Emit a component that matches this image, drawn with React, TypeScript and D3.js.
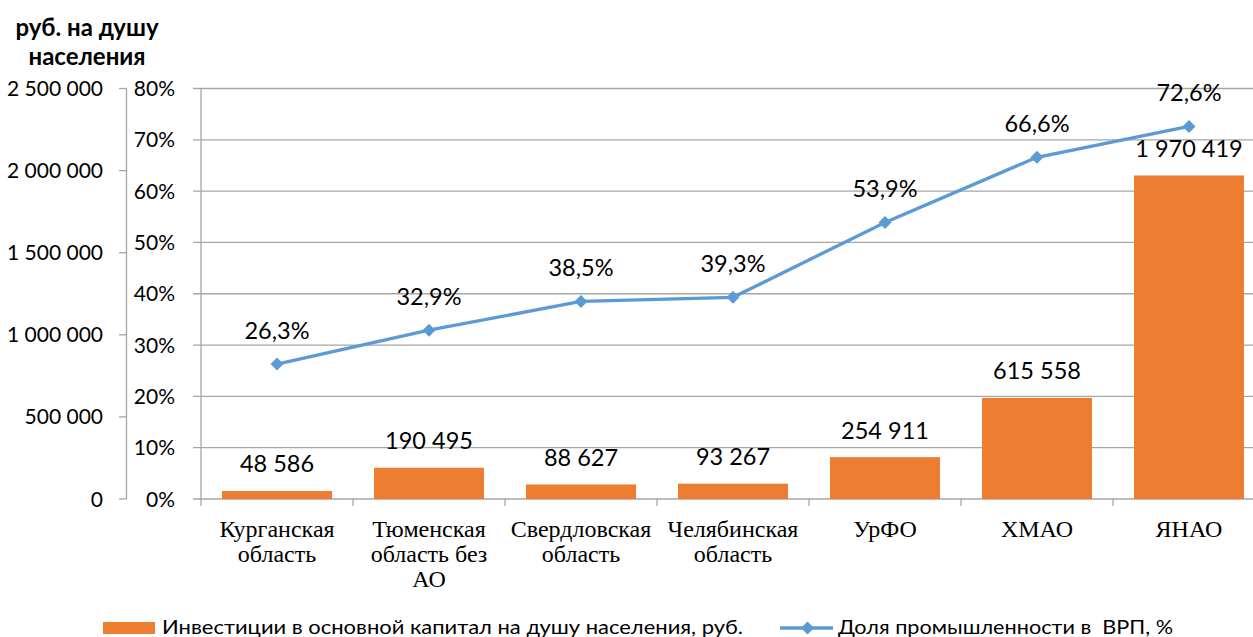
import React from "react";
import * as d3 from "d3";

const categories: string[][] = [
  ["Курганская", "область"],
  ["Тюменская", "область без", "АО"],
  ["Свердловская", "область"],
  ["Челябинская", "область"],
  ["УрФО"],
  ["ХМАО"],
  ["ЯНАО"],
];
const investments = [48586, 190495, 88627, 93267, 254911, 615558, 1970419];
const industryShare = [26.3, 32.9, 38.5, 39.3, 53.9, 66.6, 72.6];
const leftTicks = [0, 500000, 1000000, 1500000, 2000000, 2500000];
const pctTicks = [0, 10, 20, 30, 40, 50, 60, 70, 80];
const barLegend = "Инвестиции в основной капитал на душу населения, руб.";
const lineLegend = "Доля промышленности в  ВРП, %";
const titleLines = ["руб. на душу", "населения"];

const W = 1253;
const H = 637;
const sans = "Lato, 'Open Sans', sans-serif";
const serif = "'Liberation Serif', 'Times New Roman', serif";
const BAR = "#ED7D31";
const LINE = "#5B9BD5";
const GRID = "#A6A6A6";

const fmt = (v: number) =>
  String(v).replace(/\B(?=(\d{3})+(?!\d))/g, " ");
const fmtPct = (v: number) => v.toFixed(1).replace(".", ",") + "%";

export default function App() {
  const top = 88.5;
  const bottom = 499;
  const plotLeft = 201;
  const plotRight = 1265;
  const yL = d3.scaleLinear().domain([0, 2500000]).range([bottom, top]);
  const yP = d3.scaleLinear().domain([0, 80]).range([bottom, top]);
  const x = d3
    .scaleBand<number>()
    .domain(categories.map((_, i) => i))
    .range([plotLeft, plotRight])
    .paddingInner(0.276)
    .paddingOuter(0.138);
  const band = (plotRight - plotLeft) / categories.length;
  const cx = (i: number) => (x(i) as number) + x.bandwidth() / 2;

  const line = d3
    .line<number>()
    .x((_, i) => cx(i))
    .y((d) => yP(d));

  const diamond = (px: number, py: number, r: number) =>
    `M${px},${py - r}L${px + r},${py}L${px},${py + r}L${px - r},${py}Z`;

  return (
    <svg
      width={W}
      height={H}
      style={{ position: "absolute", left: 0, top: 0, background: "#fff" }}
    >
      {/* title */}
      {titleLines.map((t, i) => (
        <text
          key={t}
          x={87}
          y={36 + i * 29}
          textAnchor="middle"
          fontFamily={sans}
          fontWeight="bold"
          fontSize={24}
          fill="#000"
        >
          {t}
        </text>
      ))}

      {/* gridlines */}
      {pctTicks.map((t) => (
        <line
          key={"g" + t}
          x1={193}
          x2={plotRight}
          y1={yP(t)}
          y2={yP(t)}
          stroke={GRID}
          strokeWidth={1.3}
        />
      ))}

      {/* left axis */}
      <line x1={126.5} x2={126.5} y1={top} y2={bottom} stroke={GRID} strokeWidth={1.3} />
      {leftTicks.map((t) => (
        <g key={"l" + t}>
          <line x1={119} x2={126.5} y1={yL(t)} y2={yL(t)} stroke={GRID} strokeWidth={1.3} />
          <text
            x={103}
            y={yL(t)}
            dy="0.36em"
            textAnchor="end"
            fontFamily={sans}
            fontSize={21}
            fill="#000"
          >
            {fmt(t)}
          </text>
        </g>
      ))}

      {/* pct axis */}
      <line x1={plotLeft} x2={plotLeft} y1={top} y2={506} stroke={GRID} strokeWidth={1.3} />
      {pctTicks.map((t) => (
        <text
          key={"p" + t}
          x={175}
          y={yP(t)}
          dy="0.36em"
          textAnchor="end"
          fontFamily={sans}
          fontSize={21}
          fill="#000"
        >
          {t + "%"}
        </text>
      ))}

      {/* category ticks */}
      {categories.map((_, i) => (
        <line
          key={"ct" + i}
          x1={plotLeft + band * (i + 1)}
          x2={plotLeft + band * (i + 1)}
          y1={bottom}
          y2={506}
          stroke={GRID}
          strokeWidth={1.3}
        />
      ))}

      {/* bars */}
      {investments.map((v, i) => (
        <rect
          key={"b" + i}
          x={x(i)}
          y={yL(v)}
          width={x.bandwidth()}
          height={bottom - yL(v)}
          fill={BAR}
        />
      ))}
      {investments.map((v, i) => (
        <text
          key={"bl" + i}
          x={cx(i)}
          y={yL(v) - 27}
          dy="0.36em"
          textAnchor="middle"
          fontFamily={sans}
          fontSize={23.5}
          fill="#000"
        >
          {fmt(v)}
        </text>
      ))}

      {/* line */}
      <path d={line(industryShare) || ""} fill="none" stroke={LINE} strokeWidth={3.3} />
      {industryShare.map((v, i) => (
        <path key={"m" + i} d={diamond(cx(i), yP(v), 6.5)} fill={LINE} />
      ))}
      {industryShare.map((v, i) => (
        <text
          key={"pl" + i}
          x={cx(i)}
          y={yP(v) - 34}
          dy="0.36em"
          textAnchor="middle"
          fontFamily={sans}
          fontSize={23.5}
          fill="#000"
        >
          {fmtPct(v)}
        </text>
      ))}

      {/* category labels */}
      {categories.map((lines, i) => (
        <text
          key={"c" + i}
          textAnchor="middle"
          fontFamily={serif}
          fontSize={24}
          fill="#000"
        >
          {lines.map((l, j) => (
            <tspan key={j} x={cx(i)} y={537 + j * 25}>
              {l}
            </tspan>
          ))}
        </text>
      ))}

      {/* legend */}
      <rect x={103} y={622} width={52} height={12} fill={BAR} />
      <text
        x={162}
        y={634}
        fontFamily={sans}
        fontSize={19}
        fill="#000"
        textLength={581}
        lengthAdjust="spacingAndGlyphs"
      >
        {barLegend}
      </text>
      <line x1={780} x2={833} y1={628} y2={628} stroke={LINE} strokeWidth={3.3} />
      <path d={diamond(807.5, 628, 6.5)} fill={LINE} />
      <text
        x={838}
        y={634}
        fontFamily={sans}
        fontSize={19}
        fill="#000"
        textLength={335}
        lengthAdjust="spacingAndGlyphs"
        style={{ whiteSpace: "pre" }}
      >
        {lineLegend}
      </text>
    </svg>
  );
}
